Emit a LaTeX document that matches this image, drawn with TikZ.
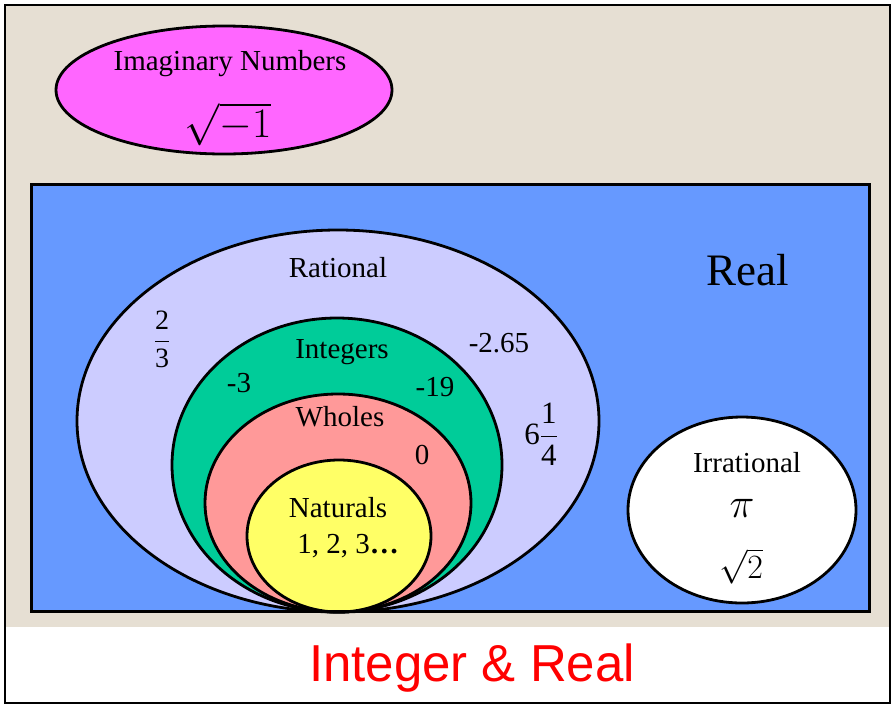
\RequirePackage{fix-cm}
\documentclass[tikz,border=0pt]{standalone}
\usepackage{fontspec}
\setmainfont{Liberation Serif}
\newfontfamily\titlefont{Liberation Sans}
\usetikzlibrary{shapes.geometric}
\definecolor{beige}{HTML}{E6DFD3}
\definecolor{realblue}{HTML}{6699FF}
\definecolor{ratfill}{HTML}{CCCCFF}
\definecolor{intfill}{HTML}{00CC99}
\definecolor{whofill}{HTML}{FF9999}
\definecolor{natfill}{HTML}{FFFF66}
\definecolor{imfill}{HTML}{FF66FF}
\definecolor{titlered}{HTML}{FF0000}
\newcommand\setfs[1]{\fontsize{#1}{#1}\selectfont}
\begin{document}
\begin{tikzpicture}[x=1pt,y=-1pt,
  setline/.style={draw=black,line width=2.8pt},
  lbl/.style={inner sep=0pt,font=\setfs{29}},
  num/.style={inner sep=0pt,font=\setfs{29}}]
\useasboundingbox (0,0) rectangle (896,710);
% frame and background
\fill[white] (0,0) rectangle (896,710);
\fill[beige] (6,6) rectangle (889,627);
\draw[line width=2pt] (5,5) rectangle (890,703);
% imaginary
\filldraw[fill=imfill,setline] (224,90) ellipse [x radius=168, y radius=64];
\node[lbl] (imag) at (230,64) {Imaginary Numbers};
\node[inner sep=0pt,font=\setfs{42}] (imagv) at (228,124) {$\sqrt{-1}$};
% real rectangle
\fill[realblue] (31,184) rectangle (869,611);
% rational family
\filldraw[fill=ratfill,setline] (338,421) ellipse [x radius=261, y radius=191];
\filldraw[fill=intfill,setline] (337,465) ellipse [x radius=165, y radius=147];
\filldraw[fill=whofill,setline] (338,503) ellipse [x radius=133, y radius=109];
\filldraw[fill=natfill,setline] (339,536) ellipse [x radius=92, y radius=76];
% irrational
\filldraw[fill=white,setline] (742,510) ellipse [x radius=114, y radius=93];
\draw[line width=3pt] (31,184) rectangle (869,611);
% labels
\node[inner sep=0pt,font=\setfs{45}] (real) at (748,270) {Real};
\node[lbl] (rat) at (338,268) {Rational};
\node[inner sep=0pt,font=\setfs{28}] (twothirds) at (162,339) {$\displaystyle\frac{\mbox{2}}{\mbox{3}}$};
\node[lbl] (int) at (342,352) {Integers};
\node[num] (m265) at (499,343) {-2.65};
\node[num] (m3) at (239,383) {-3};
\node[num] (m19) at (435,387) {-19};
\node[lbl] (who) at (340,417) {Wholes};
\node[num] (zero) at (422,455) {0};
\node[inner sep=0pt,font=\setfs{31}] (sixq) at (541,434) {6$\displaystyle\frac{\mbox{1}}{\mbox{4}}$};
\node[lbl] (nat) at (338,508) {Naturals};
\node[num] (ones) at (348,546) {1, 2, 3\textbf{\ldots}};
\node[lbl] (irr) at (747,463) {Irrational};
\node[inner sep=0pt,font=\setfs{42}] (pi) at (742,508) {$\pi$};
\node[inner sep=0pt,font=\setfs{34}] (sq2) at (741,566) {$\sqrt{2}$};
% title
\node[inner sep=0pt,text=titlered,font=\titlefont\setfs{52}] (title) at (472,668) {\scalebox{0.98}[1]{Integer \& Real}};
\end{tikzpicture}
\end{document}
